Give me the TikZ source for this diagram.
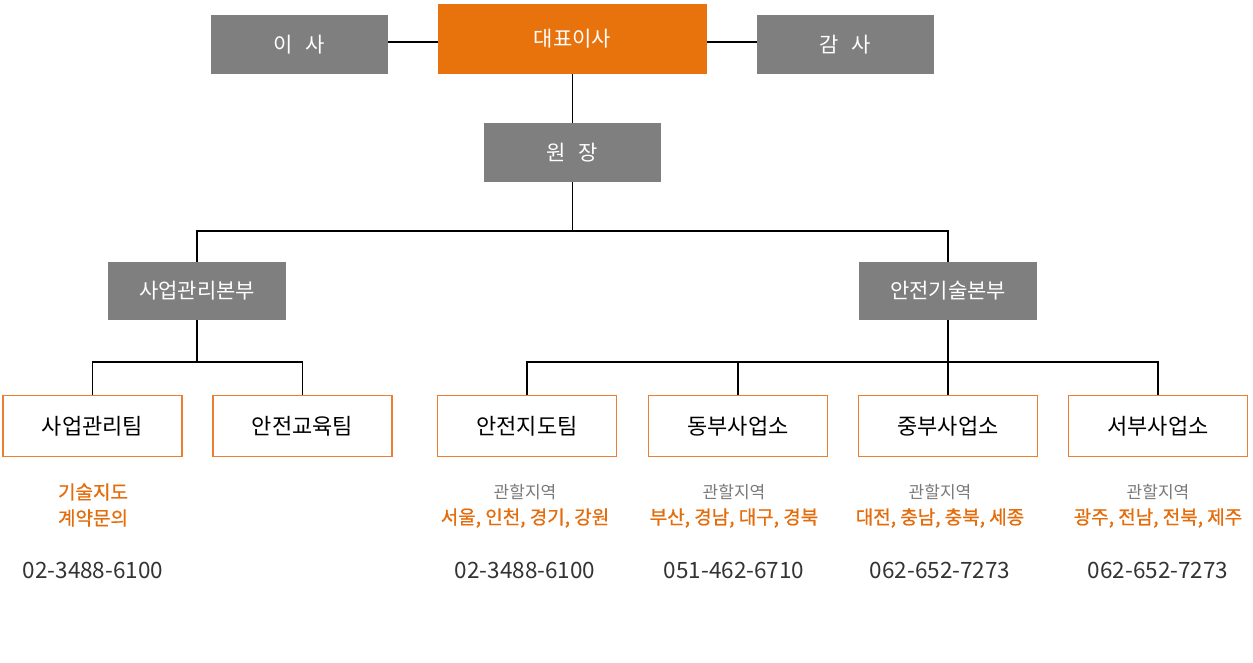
\documentclass[tikz,border=0pt]{standalone}
\usepackage{fontspec}
\setmainfont{Noto Sans CJK KR}
\newfontfamily\medfont{Noto Sans CJK KR}[FakeBold=0.7]
\definecolor{boxgray}{HTML}{7F7F7F}
\definecolor{ceo}{HTML}{E8720C}
\definecolor{obord}{HTML}{ED7D31}
\definecolor{otext}{HTML}{E46C0A}
\definecolor{phone}{HTML}{333333}
\definecolor{lbl}{HTML}{7A7A7A}
\tikzset{
  graybox/.style={fill=boxgray, draw=none, text=white, minimum width=177pt, minimum height=59pt, inner sep=0pt, font=\fontsize{21}{23}\selectfont},
  ceobox/.style={fill=ceo, draw=none, text=white, minimum width=269pt, minimum height=70pt, inner sep=0pt, font=\fontsize{21}{23}\selectfont},
  teambox/.style={fill=white, draw=obord, line width=1.3pt, text=black, minimum width=179pt, minimum height=61pt, inner sep=0pt, font=\fontsize{22}{24}\selectfont},
  conn/.style={draw=black, line width=1.3pt},
  area/.style={text=lbl, font=\fontsize{17}{19}\selectfont, inner sep=0pt},
  region/.style={text=otext, font=\medfont\fontsize{19}{21}\selectfont, inner sep=0pt},
  phonetxt/.style={text=phone, font=\fontsize{22.5}{24}\selectfont, inner sep=0pt},
}
\begin{document}
\begin{tikzpicture}[x=1pt,y=-1pt]
\useasboundingbox[fill=white] (0,0) rectangle (1253,662);
% top row
\node[ceobox] (ceo) at (572.5,39) {대표이사};
\node[graybox] (dir) at (299.5,44.5) {이\hspace{0.6em}사};
\node[graybox] (aud) at (845.5,44.5) {감\hspace{0.6em}사};
\node[graybox] (head) at (572.5,152.5) {원\hspace{0.6em}장};
% divisions
\node[graybox, minimum width=178pt, minimum height=58pt] (bizdiv) at (197,291) {사업관리본부};
\node[graybox, minimum width=178pt, minimum height=58pt] (safediv) at (948,291) {안전기술본부};
% teams
\node[teambox] (t1) at (92.5,426) {사업관리팀};
\node[teambox] (t2) at (302.5,426) {안전교육팀};
\node[teambox] (t3) at (527,426) {안전지도팀};
\node[teambox] (t4) at (738,426) {동부사업소};
\node[teambox] (t5) at (948,426) {중부사업소};
\node[teambox] (t6) at (1158,426) {서부사업소};
% connectors
\coordinate (bar1) at (572.5,231);
\coordinate (bar2) at (197,362);
\coordinate (bar3) at (948,362);
\draw[conn] (dir.east |- 0,42) -- (ceo.west |- 0,42);
\draw[conn] (ceo.east |- 0,42) -- (aud.west |- 0,42);
\draw[conn] (ceo.south) -- (head.north);
\draw[conn] (head.south) -- (bar1);
\draw[conn] (bizdiv.north) |- (bar1) -| (safediv.north);
\draw[conn] (bizdiv.south) -- (bar2);
\draw[conn] (t1.north) |- (bar2) -| (t2.north);
\draw[conn] (safediv.south) -- (t5.north);
\draw[conn] (t3.north) |- (bar3) -| (t6.north);
\draw[conn] (t4.north) -- (t4.north |- bar3);
% texts below
\node[region] (r1a) at (93,492) {기술지도};
\node[region] (r1b) at (93,518) {계약문의};
\node[phonetxt] (p1) at (93,570) {02-3488-6100};
\node[area] (a3) at (525,492) {관할지역};
\node[region] (r3) at (525,518) {서울, 인천, 경기, 강원};
\node[phonetxt] (p3) at (525,570) {02-3488-6100};
\node[area] (a4) at (734,492) {관할지역};
\node[region] (r4) at (734,518) {부산, 경남, 대구, 경북};
\node[phonetxt] (p4) at (734,570) {051-462-6710};
\node[area] (a5) at (940,492) {관할지역};
\node[region] (r5) at (940,518) {대전, 충남, 충북, 세종};
\node[phonetxt] (p5) at (940,570) {062-652-7273};
\node[area] (a6) at (1158,492) {관할지역};
\node[region] (r6) at (1158,518) {광주, 전남, 전북, 제주};
\node[phonetxt] (p6) at (1158,570) {062-652-7273};
\end{tikzpicture}
\end{document}
